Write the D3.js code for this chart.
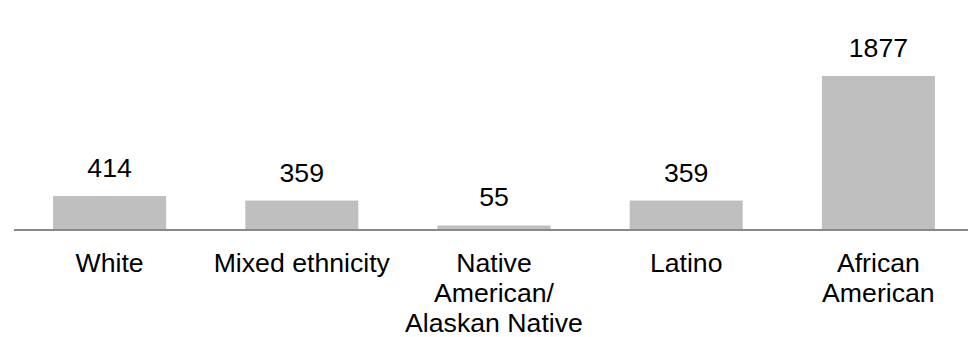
<!DOCTYPE html>
<html>
<head>
<meta charset="utf-8">
<script src="https://cdn.jsdelivr.net/npm/d3@7"></script>
<style>
  html, body { margin: 0; padding: 0; background: #ffffff; }
  svg { display: block; }
  text { font-family: "Liberation Sans", Arial, sans-serif; fill: #000000; }
</style>
</head>
<body>
<svg id="chart" width="968" height="337"></svg>
<script>
// Counts by race / ethnicity
const categories = ["White", "Mixed ethnicity", "Native American/ Alaskan Native", "Latino", "African American"];
const values = [414, 359, 55, 359, 1877];

const width = 968, height = 337;
const baseY = 230;
const fontSize = 26.67;

const svg = d3.select("#chart");

const x = d3.scaleBand()
  .domain(categories)
  .range([13.5, 974.5])
  .paddingInner(0.412)
  .paddingOuter(0.206);

const y = d3.scaleLinear()
  .domain([0, 1877])
  .range([baseY, 76]);

const data = categories.map((c, i) => ({ name: c, value: values[i] }));

// Bars
svg.append("g")
  .selectAll("rect")
  .data(data)
  .join("rect")
  .attr("x", d => x(d.name))
  .attr("y", d => y(d.value))
  .attr("width", x.bandwidth())
  .attr("height", d => baseY - y(d.value))
  .attr("fill", "#bfbfbf");

// Baseline
svg.append("line")
  .attr("x1", 14)
  .attr("x2", width)
  .attr("y1", baseY)
  .attr("y2", baseY)
  .attr("stroke", "#898989")
  .attr("stroke-width", 2);

// Value labels above the bars
svg.append("g")
  .selectAll("text")
  .data(data)
  .join("text")
  .attr("x", d => x(d.name) + x.bandwidth() / 2)
  .attr("y", d => y(d.value) - 19)
  .attr("text-anchor", "middle")
  .style("font-size", fontSize + "px")
  .text(d => d.value);

// Category labels, wrapped to the band width
const catLabels = svg.append("g")
  .selectAll("text")
  .data(data)
  .join("text")
  .attr("x", d => x(d.name) + x.bandwidth() / 2)
  .attr("y", 272)
  .attr("text-anchor", "middle")
  .style("font-size", fontSize + "px");

const maxWidth = 185;
const lineHeight = 30;
catLabels.each(function(d) {
  const text = d3.select(this);
  const cx = text.attr("x");
  const words = d.name.split(/\s+/);
  let line = [];
  let tspan = text.append("tspan").attr("x", cx).attr("dy", 0);
  words.forEach(w => {
    line.push(w);
    tspan.text(line.join(" "));
    if (tspan.node().getComputedTextLength() > maxWidth && line.length > 1) {
      line.pop();
      tspan.text(line.join(" "));
      line = [w];
      tspan = text.append("tspan").attr("x", cx).attr("dy", lineHeight).text(w);
    }
  });
});
</script>
</body>
</html>
